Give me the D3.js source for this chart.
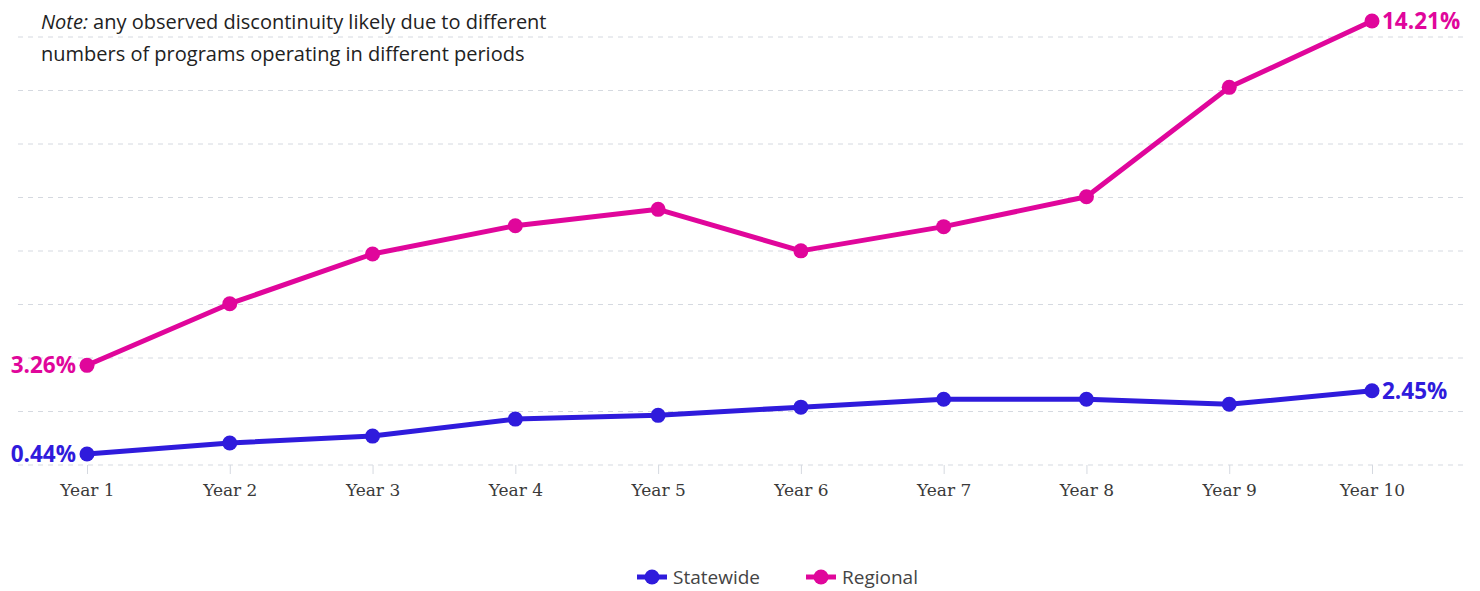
<!DOCTYPE html>
<html lang="en">
<head>
    <meta charset="UTF-8">
    <title>Statewide vs Regional</title>
    <script src="https://d3js.org/d3.v7.min.js"></script>
    <style>
        body { margin: 0; background: #fff; }
        .chart { width: 1480px; height: 591px; }
        .note { font-family: "Open Sans", Roboto, sans-serif; font-size: 20px; fill: #222; }
        .tick-label { font-family: "DejaVu Serif", "Liberation Serif", serif; font-size: 17px; fill: #3a3a3a; }
        .end-label { font-family: "Open Sans", Roboto, sans-serif; font-size: 22.5px; font-weight: 700; }
        .legend-text { font-family: "Open Sans", Roboto, sans-serif; font-size: 19px; fill: #444; }
    </style>
</head>
<body>
    <div class="chart"></div>
    <script>
        // data
        const years = ['Year 1', 'Year 2', 'Year 3', 'Year 4', 'Year 5', 'Year 6', 'Year 7', 'Year 8', 'Year 9', 'Year 10']
        const statewide = [0.44, 0.79, 1.01, 1.55, 1.67, 1.93, 2.18, 2.18, 2.02, 2.45]
        const regional = [3.26, 5.22, 6.80, 7.70, 8.22, 6.90, 7.67, 8.62, 12.10, 14.21]
        const seriesNames = ['Statewide', 'Regional']
        const colors = ['#2f1bdc', '#e0069b']

        const width = 1480, height = 591
        const svg = d3.select('.chart').append('svg')
            .attr('width', width)
            .attr('height', height)

        // scales
        const x = d3.scalePoint()
            .domain(years)
            .range([87, 1372])

        const y = d3.scaleLinear()
            .domain([0.44, 14.21])
            .range([454, 21])

        // grid lines (evenly spaced)
        const gridTop = 37, gridBottom = 465, gridCount = 8
        const grid = d3.range(gridCount + 1).map(i => gridBottom - i * (gridBottom - gridTop) / gridCount)
        svg.append('g')
            .selectAll('line')
            .data(grid)
            .enter()
            .append('line')
            .attr('x1', 18)
            .attr('x2', 1465)
            .attr('y1', d => d)
            .attr('y2', d => d)
            .attr('stroke', '#d5d9e0')
            .attr('stroke-width', 1)
            .attr('stroke-dasharray', '5,5')

        // x axis
        const xAxis = d3.axisBottom(x).tickSize(9).tickPadding(10)
        const gx = svg.append('g')
            .attr('transform', `translate(0, ${gridBottom})`)
            .call(xAxis)
        gx.select('.domain').remove()
        gx.selectAll('.tick line').attr('stroke', '#d5d9e0')
        gx.selectAll('.tick text').attr('class', 'tick-label').attr('font-family', null).attr('font-size', null).attr('fill', null)

        // note
        const note = svg.append('text').attr('class', 'note').attr('x', 41).attr('y', 29)
        note.append('tspan').attr('font-style', 'italic').text('Note:')
        note.append('tspan').text(' any observed discontinuity likely due to different')
        svg.append('text').attr('class', 'note').attr('x', 41).attr('y', 61)
            .text('numbers of programs operating in different periods')

        // lines
        const line = d3.line()
            .x((d, i) => x(years[i]))
            .y(d => y(d))

        const allSeries = [statewide, regional]
        allSeries.forEach((vals, k) => {
            const g = svg.append('g')
            g.append('path')
                .datum(vals)
                .attr('d', line)
                .attr('fill', 'none')
                .attr('stroke', colors[k])
                .attr('stroke-width', 5)
                .attr('stroke-linejoin', 'round')
            g.selectAll('circle')
                .data(vals)
                .enter()
                .append('circle')
                .attr('cx', (d, i) => x(years[i]))
                .attr('cy', d => y(d))
                .attr('r', 7.5)
                .attr('fill', colors[k])

            // start / end labels
            g.append('text')
                .attr('class', 'end-label')
                .attr('x', x(years[0]) - 11)
                .attr('y', y(vals[0]))
                .attr('dy', '0.36em')
                .attr('text-anchor', 'end')
                .attr('fill', colors[k])
                .text(vals[0].toFixed(2) + '%')
            g.append('text')
                .attr('class', 'end-label')
                .attr('x', x(years[years.length - 1]) + 10)
                .attr('y', y(vals[vals.length - 1]))
                .attr('dy', '0.36em')
                .attr('fill', colors[k])
                .text(vals[vals.length - 1].toFixed(2) + '%')
        })

        // legend
        const legendX = [637, 806]
        const legend = svg.append('g')
            .selectAll('g')
            .data(seriesNames)
            .enter()
            .append('g')
            .attr('transform', (d, i) => `translate(${legendX[i]}, 577)`)
        legend.append('line')
            .attr('x1', 0).attr('x2', 30)
            .attr('stroke', (d, i) => colors[i])
            .attr('stroke-width', 5)
        legend.append('circle')
            .attr('cx', 15).attr('r', 7.5)
            .attr('fill', (d, i) => colors[i])
        legend.append('text')
            .attr('class', 'legend-text')
            .attr('x', 36)
            .attr('dy', '0.35em')
            .text(d => d)
    </script>
</body>
</html>
